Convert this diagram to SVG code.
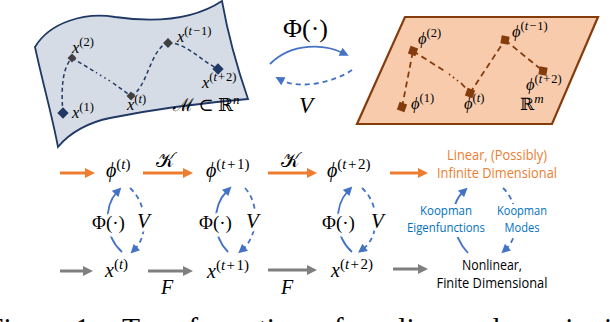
<svg xmlns="http://www.w3.org/2000/svg" width="610" height="322" viewBox="0 0 610 322">
<style>
.mt{font-family:"Liberation Serif","DejaVu Serif",serif;fill:#000}
.it{font-style:italic}
.sans{font-family:"Open Sans","Noto Sans","Liberation Sans",sans-serif}
.halo{paint-order:stroke;stroke:#fff;stroke-width:7;stroke-linejoin:round}
.blu{fill:none;stroke:#4472c4;stroke-width:1.8}
.dash{stroke-dasharray:5,4}
.org{fill:none;stroke:#ed7d31;stroke-width:3}
.gry{fill:none;stroke:#7f7f7f;stroke-width:3}
.mpath{fill:none;stroke:#203864;stroke-width:1.5;stroke-dasharray:4,3}
.ppath{fill:none;stroke:#843c0c;stroke-width:1.8;stroke-dasharray:6,4}
.dot1{stroke-dasharray:1.5,3.5}
.dia{fill:#203864}
.sq{fill:#843c0c}
.s1{font-size:16.5px}
.u1{font-size:12.5px}
.s2{font-size:20px}
.u2{font-size:15px}
.cap{font-family:"Liberation Serif","DejaVu Serif",serif;font-size:29.5px;fill:#000}
</style>
<defs>
<marker id="ao" viewBox="0 0 10 10" refX="2" refY="5" markerWidth="11" markerHeight="10" markerUnits="userSpaceOnUse" orient="auto"><path d="M0,0 L10,5 L0,10 Z" fill="#ed7d31"/></marker>
<marker id="ag" viewBox="0 0 10 10" refX="2" refY="5" markerWidth="11" markerHeight="10" markerUnits="userSpaceOnUse" orient="auto"><path d="M0,0 L10,5 L0,10 Z" fill="#7f7f7f"/></marker>
<marker id="ab" viewBox="0 0 10 10" refX="3" refY="5" markerWidth="10" markerHeight="9" markerUnits="userSpaceOnUse" orient="auto"><path d="M0,0 L10,5 L0,10 Z" fill="#4472c4" stroke="none"/></marker>
</defs>

<g id="manifold">
<path d="M35,47 C50,22 85,12 115,17 C150,22 190,22 222,1 C228,35 238,70 248,99 C200,103 150,110 110,118 C90,122 70,132 58,147 C52,115 42,80 35,47 Z" fill="#d6dce5" stroke="#203864" stroke-width="1.8"/>
<path class="mpath" d="M63,113 C61,90 62,68 72,58"/>
<path class="mpath" d="M72,58 L97,73"/>
<path class="mpath dot1" d="M100,75 L110,81"/>
<path class="mpath" d="M113,83 L131,96"/>
<path class="mpath" d="M131,96 C148,88 150,48 168,43"/>
<path class="mpath" d="M168,43 C185,42 200,60 218,69"/>
<rect class="dia" x="-4" y="-4" width="8" height="8" transform="translate(63,113) rotate(45)"/>
<rect x="-3.2" y="-3.2" width="6.4" height="6.4" fill="#404040" transform="translate(72,58) rotate(45)"/>
<rect x="-3.2" y="-3.2" width="6.4" height="6.4" fill="#404040" transform="translate(131,96) rotate(45)"/>
<rect x="-3.5" y="-3.5" width="7" height="7" fill="#404040" transform="translate(168,43) rotate(45)"/>
<rect class="dia" x="-4" y="-4" width="8" height="8" transform="translate(218,69) rotate(45)"/>
<text class="mt s1" x="72" y="53"><tspan class="it">x</tspan><tspan class="u1" dy="-7">(2)</tspan></text>
<text class="mt s1" x="72" y="118"><tspan class="it">x</tspan><tspan class="u1" dy="-7">(1)</tspan></text>
<text class="mt s1" x="127" y="110"><tspan class="it">x</tspan><tspan class="u1" dy="-7">(<tspan class="it">t</tspan>)</tspan></text>
<text class="mt s1" x="177" y="42"><tspan class="it">x</tspan><tspan class="u1" dy="-7">(<tspan class="it">t</tspan><tspan dx="1">−</tspan><tspan dx="1">1)</tspan></tspan></text>
<text class="mt s1" x="202" y="88"><tspan class="it">x</tspan><tspan class="u1" dy="-7">(<tspan class="it">t</tspan><tspan dx="1">+</tspan><tspan dx="1">2)</tspan></tspan></text>
<text class="mt" x="173" y="111" font-size="18">ℳ ⊂ ℝ<tspan dy="-7" font-size="13" class="it">n</tspan></text>
</g>

<g id="plane">
<path d="M405,17 L598,17 L552,124 L357,124 Z" fill="#f8cbad" stroke="#843c0c" stroke-width="2.2"/>
<path class="ppath" d="M402,107 L413,51"/>
<path class="ppath" d="M413,51 L446,72"/>
<path class="ppath dot1" d="M449,74 L458,81"/>
<path class="ppath" d="M461,83 L470,93"/>
<path class="ppath" d="M470,93 L505,40"/>
<path class="ppath" d="M505,40 L543,71"/>
<rect class="sq" x="-4" y="-4" width="8" height="8" transform="translate(402,107) rotate(20)"/>
<rect class="sq" x="-4" y="-4" width="8" height="8" transform="translate(413,51) rotate(20)"/>
<rect class="sq" x="-4" y="-4" width="8" height="8" transform="translate(470,93) rotate(20)"/>
<rect class="sq" x="-4" y="-4" width="8" height="8" transform="translate(505,40) rotate(10)"/>
<rect class="sq" x="-4" y="-4" width="8" height="8" transform="translate(543,71) rotate(10)"/>
<text class="mt s1" x="418" y="44"><tspan class="it">ϕ</tspan><tspan class="u1" dy="-7">(2)</tspan></text>
<text class="mt s1" x="411" y="109"><tspan class="it">ϕ</tspan><tspan class="u1" dy="-7">(1)</tspan></text>
<text class="mt s1" x="464" y="109"><tspan class="it">ϕ</tspan><tspan class="u1" dy="-7">(<tspan class="it">t</tspan>)</tspan></text>
<text class="mt s1" x="512" y="37"><tspan class="it">ϕ</tspan><tspan class="u1" dy="-7">(<tspan class="it">t</tspan><tspan dx="1">−</tspan><tspan dx="1">1)</tspan></tspan></text>
<text class="mt s1" x="526" y="90"><tspan class="it">ϕ</tspan><tspan class="u1" dy="-7">(<tspan class="it">t</tspan><tspan dx="1">+</tspan><tspan dx="1">2)</tspan></tspan></text>
<text class="mt" x="520" y="110" font-size="17">ℝ<tspan dy="-7" font-size="13" class="it">m</tspan></text>
</g>

<g id="top-maps">
<text class="mt" x="283" y="37" font-size="26">Φ(·)</text>
<text class="mt it" x="299" y="113" font-size="23">V</text>
</g>

<g id="row-phi">
<text class="mt s2" x="106" y="177"><tspan class="it">ϕ</tspan><tspan class="u2" dy="-8">(<tspan class="it">t</tspan>)</tspan></text>
<text class="mt s2" x="206" y="177"><tspan class="it">ϕ</tspan><tspan class="u2" dy="-8">(<tspan class="it">t</tspan><tspan dx="1.5">+</tspan><tspan dx="1.5">1)</tspan></tspan></text>
<text class="mt s2" x="327" y="177"><tspan class="it">ϕ</tspan><tspan class="u2" dy="-8">(<tspan class="it">t</tspan><tspan dx="1.5">+</tspan><tspan dx="1.5">2)</tspan></tspan></text>
<text class="mt" x="156" y="167" font-size="20">𝒦</text>
<text class="mt" x="281" y="167" font-size="20">𝒦</text>
</g>

<g id="row-x">
<text class="mt s2" x="105" y="277"><tspan class="it">x</tspan><tspan class="u2" dy="-8">(<tspan class="it">t</tspan>)</tspan></text>
<text class="mt s2" x="207" y="278"><tspan class="it">x</tspan><tspan class="u2" dy="-8">(<tspan class="it">t</tspan><tspan dx="1.5">+</tspan><tspan dx="1.5">1)</tspan></tspan></text>
<text class="mt s2" x="331" y="277"><tspan class="it">x</tspan><tspan class="u2" dy="-8">(<tspan class="it">t</tspan><tspan dx="1.5">+</tspan><tspan dx="1.5">2)</tspan></tspan></text>
<text class="mt it" x="161" y="294" font-size="20">F</text>
<text class="mt it" x="281" y="294" font-size="20">F</text>
</g>

<g id="connectors">
<path class="blu" d="M270,64 C292,42 325,44 343,53" marker-end="url(#ab)"/>
<path class="blu dash" d="M352,70 C335,82 300,90 281,80" marker-end="url(#ab)"/>
<path class="org" d="M60,173 H87" marker-end="url(#ao)"/>
<path class="org" d="M143,173 H185" marker-end="url(#ao)"/>
<path class="org" d="M268,173 H309" marker-end="url(#ao)"/>
<path class="org" d="M390,173 H420" marker-end="url(#ao)"/>
<path class="gry" d="M60,271 H85" marker-end="url(#ag)"/>
<path class="gry" d="M148,271 H185" marker-end="url(#ag)"/>
<path class="gry" d="M268,270 H309" marker-end="url(#ag)"/>
<path class="gry" d="M393,269 H420" marker-end="url(#ag)"/>
<path class="blu" d="M122,252 C104,236 104,206 117,192" marker-end="url(#ab)"/>
<path class="blu dash" d="M130,188 C148,204 148,236 135,249" marker-end="url(#ab)"/>
<path class="blu" d="M228,252 C212,236 212,206 227,191" marker-end="url(#ab)"/>
<path class="blu dash" d="M245,188 C260,204 258,236 243,249" marker-end="url(#ab)"/>
<path class="blu" d="M352,252 C334,236 334,206 348,191" marker-end="url(#ab)"/>
<path class="blu dash" d="M362,188 C380,204 380,236 363,249" marker-end="url(#ab)"/>
<path class="blu" d="M468,253 C452,236 448,206 463,192" marker-end="url(#ab)"/>
<path class="blu dash" d="M503,188 C520,204 520,236 506,249" marker-end="url(#ab)"/>
</g>

<g id="maps-labels">
<text class="mt halo" x="92" y="229" font-size="19">Φ(·)</text>
<text class="mt it halo" x="137" y="228" font-size="21">V</text>
<text class="mt halo" x="199" y="229" font-size="19">Φ(·)</text>
<text class="mt it halo" x="246" y="228" font-size="21">V</text>
<text class="mt halo" x="322" y="229" font-size="19">Φ(·)</text>
<text class="mt it halo" x="371" y="228" font-size="21">V</text>
</g>

<g id="koopman-labels">
<rect x="405" y="204" width="82" height="33" fill="#fff"/>
<rect x="495" y="204" width="54" height="33" fill="#fff"/>
<text class="sans" x="446" y="215" font-size="12.5" fill="#0070c0" text-anchor="middle" textLength="52" lengthAdjust="spacingAndGlyphs">Koopman</text>
<text class="sans" x="446" y="232" font-size="12.5" fill="#0070c0" text-anchor="middle" textLength="78" lengthAdjust="spacingAndGlyphs">Eigenfunctions</text>
<text class="sans" x="522" y="215" font-size="12.5" fill="#0070c0" text-anchor="middle" textLength="50" lengthAdjust="spacingAndGlyphs">Koopman</text>
<text class="sans" x="522" y="232" font-size="12.5" fill="#0070c0" text-anchor="middle" textLength="35" lengthAdjust="spacingAndGlyphs">Modes</text>
</g>

<g id="side-labels">
<text class="sans" x="497" y="160" font-size="14" fill="#ed7d31" text-anchor="middle" textLength="100" lengthAdjust="spacingAndGlyphs">Linear, (Possibly)</text>
<text class="sans" x="497" y="178" font-size="14" fill="#ed7d31" text-anchor="middle" textLength="120" lengthAdjust="spacingAndGlyphs">Infinite Dimensional</text>
<text class="sans" x="492" y="270" font-size="14" fill="#000" text-anchor="middle" textLength="60" lengthAdjust="spacingAndGlyphs">Nonlinear,</text>
<text class="sans" x="492" y="288" font-size="14" fill="#000" text-anchor="middle" textLength="111" lengthAdjust="spacingAndGlyphs">Finite Dimensional</text>
</g>

<g id="caption">
<text class="cap" y="338"><tspan x="-13">Figure</tspan><tspan x="75">1:</tspan><tspan x="122">Transformation</tspan><tspan x="319">of</tspan><tspan x="354">nonlinear</tspan><tspan x="485">dynamics</tspan><tspan x="604">into</tspan></text>
</g>
</svg>
